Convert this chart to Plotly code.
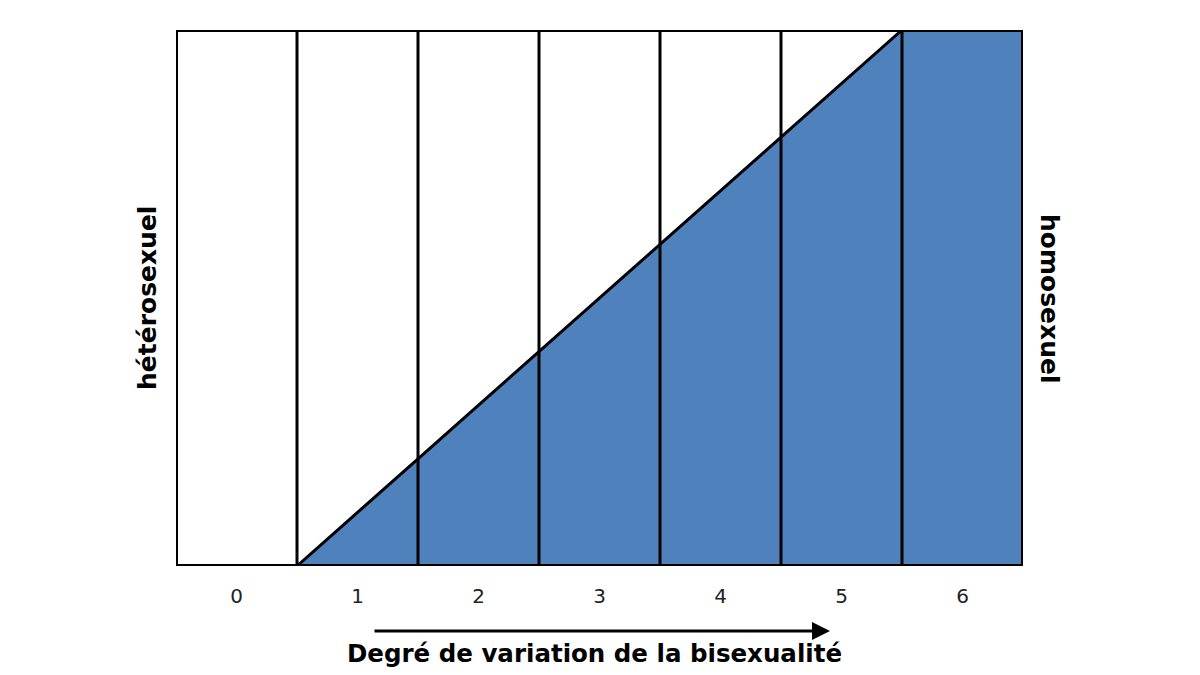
import plotly.graph_objects as go

categories = [0, 1, 2, 3, 4, 5, 6]
boundaries = [-0.5, 0.5, 1.5, 2.5, 3.5, 4.5, 5.5, 6.5]
homo_share = [0.0, 0.0, 0.2, 0.4, 0.6, 0.8, 1.0, 1.0]
x_title = "Degré de variation de la bisexualité"
left_label = "hétérosexuel"
right_label = "homosexuel"

BLUE = "#4f81bd"
FONT = "DejaVu Sans"

fig = go.Figure()
fig.add_trace(go.Scatter(
    x=boundaries, y=homo_share, mode="lines", fill="tozeroy",
    fillcolor=BLUE, line=dict(color="black", width=3),
    hoverinfo="skip", showlegend=False))

for b in boundaries[1:-1]:
    fig.add_shape(type="line", x0=b, x1=b, y0=0, y1=1, xref="x", yref="y",
                  line=dict(color="black", width=3))
fig.add_shape(type="rect", x0=boundaries[0], x1=boundaries[-1], y0=0, y1=1,
              xref="x", yref="y", line=dict(color="black", width=4))

fig.add_annotation(x=4.905, y=-0.1213, xref="x", yref="paper",
                   ax=1.128, ay=0, axref="x", ayref="pixel",
                   showarrow=True, arrowhead=2, arrowsize=1.2, arrowwidth=3,
                   arrowcolor="black", text="")
fig.add_annotation(x=2.959, y=-0.163, xref="x", yref="paper", text="<b>" + x_title + "</b>",
                   showarrow=False, font=dict(family=FONT, size=24.5, color="#000"),
                   xanchor="center", yanchor="middle")
fig.add_annotation(x=-0.0342, y=0.5, xref="paper", yref="paper", text="<b>" + left_label + "</b>",
                   textangle=-90, showarrow=False, xanchor="center", yanchor="middle",
                   font=dict(family=FONT, size=25, color="#000"))
fig.add_annotation(x=1.0319, y=0.5, xref="paper", yref="paper", text="<b>" + right_label + "</b>",
                   textangle=90, showarrow=False, xanchor="center", yanchor="middle",
                   font=dict(family=FONT, size=25, color="#000"))

fig.update_xaxes(range=[boundaries[0], boundaries[-1]], tickvals=categories,
                 ticktext=[str(c) for c in categories], showgrid=False, zeroline=False,
                 showline=False, ticks="", ticklabelstandoff=16,
                 tickfont=dict(family=FONT, size=20, color="#222"), fixedrange=True)
fig.update_yaxes(range=[0, 1], showticklabels=False, showgrid=False, zeroline=False,
                 showline=False, ticks="", fixedrange=True)
fig.update_layout(width=1200, height=675, margin=dict(l=168, r=185, t=22, b=117),
                  plot_bgcolor="white", paper_bgcolor="white", showlegend=False)
fig.write_html("out.html")
